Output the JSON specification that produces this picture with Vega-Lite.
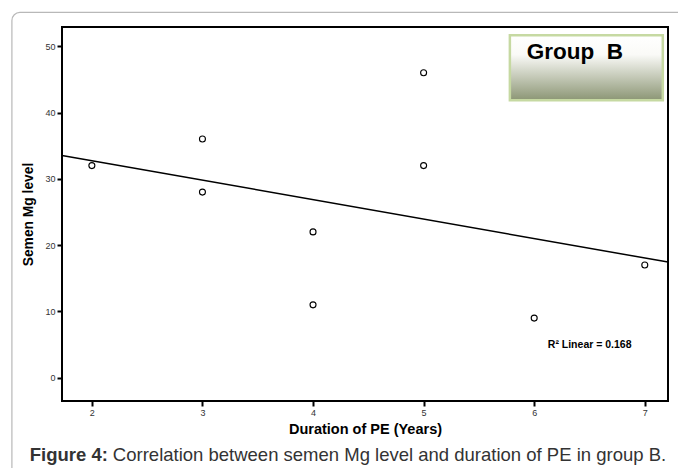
{
  "$schema": "https://vega.github.io/schema/vega-lite/v6.json",
  "width": 606,
  "height": 374,
  "autosize": {"type": "none"},
  "padding": {"left": 62, "top": 27, "right": 10, "bottom": 67},
  "background": "#ffffff",
  "config": {
    "font": "Liberation Sans",
    "view": {"stroke": "#000000", "strokeWidth": 2},
    "axis": {
      "domain": false,
      "grid": false,
      "tickColor": "#000000",
      "tickWidth": 2,
      "tickSize": 5,
      "labelFont": "Liberation Sans",
      "labelFontSize": 9,
      "labelColor": "#333333",
      "labelPadding": 2,
      "titleFont": "Liberation Sans",
      "titleFontWeight": "bold",
      "titleColor": "#000000"
    }
  },
  "layer": [
    {
      "data": {"values": [{"x1": 1.277, "x2": 7.7, "y1": 55.1, "y2": -25}]},
      "mark": {"type": "rect", "fill": null, "fillOpacity": 0, "stroke": "#b8b8b8", "strokeWidth": 1.2, "cornerRadius": 8},
      "encoding": {
        "x": {"field": "x1", "type": "quantitative", "scale": {"domain": [1.73, 7.21], "nice": false, "zero": false}},
        "x2": {"field": "x2"},
        "y": {"field": "y1", "type": "quantitative", "scale": {"domain": [-3.5, 52.9], "nice": false, "zero": false}},
        "y2": {"field": "y2"}
      }
    },
    {
      "data": {"name": "pts", "values": [
        {"duration": 2, "mg": 32},
        {"duration": 3, "mg": 36},
        {"duration": 3, "mg": 28},
        {"duration": 4, "mg": 22},
        {"duration": 4, "mg": 11},
        {"duration": 5, "mg": 46},
        {"duration": 5, "mg": 32},
        {"duration": 6, "mg": 9},
        {"duration": 7, "mg": 17}
      ]},
      "layer": [
        {
          "mark": {"type": "point", "shape": "circle", "filled": false, "stroke": "#000000", "fill": "#ffffff", "fillOpacity": 1, "strokeWidth": 1.1, "size": 36, "opacity": 1},
          "encoding": {
            "x": {"field": "duration", "type": "quantitative", "title": "Duration of PE (Years)",
              "scale": {"domain": [1.73, 7.21], "nice": false, "zero": false},
              "axis": {"values": [2, 3, 4, 5, 6, 7], "format": "d", "titleFontSize": 14.5, "titlePadding": 5}},
            "y": {"field": "mg", "type": "quantitative", "title": "Semen Mg level",
              "scale": {"domain": [-3.5, 52.9], "nice": false, "zero": false},
              "axis": {"values": [0, 10, 20, 30, 40, 50], "format": "d", "titleFontSize": 13.8, "titlePadding": 9}}
          }
        },
        {
          "transform": [{"regression": "mg", "on": "duration", "extent": [1.73, 7.21]}],
          "mark": {"type": "line", "color": "#000000", "strokeWidth": 1.5},
          "encoding": {
            "x": {"field": "duration", "type": "quantitative"},
            "y": {"field": "mg", "type": "quantitative"}
          }
        }
      ]
    },
    {
      "data": {"values": [{"x1": 5.78, "x2": 7.163, "y1": 51.66, "y2": 41.87}]},
      "mark": {"type": "rect", "stroke": "#c6d9a2", "strokeWidth": 2.5,
        "fill": {"gradient": "linear", "x1": 0, "y1": 0, "x2": 0, "y2": 1,
          "stops": [{"offset": 0, "color": "#ffffff"}, {"offset": 0.3, "color": "#fafaf7"}, {"offset": 1, "color": "#8c9675"}]}},
      "encoding": {
        "x": {"field": "x1", "type": "quantitative"},
        "x2": {"field": "x2"},
        "y": {"field": "y1", "type": "quantitative"},
        "y2": {"field": "y2"}
      }
    },
    {
      "data": {"values": [{"x": 5.933, "y": 48.04, "label": "Group\u00a0\u00a0B"}]},
      "mark": {"type": "text", "align": "left", "baseline": "alphabetic", "fontSize": 22.5, "fontWeight": "bold", "color": "#000000"},
      "encoding": {
        "x": {"field": "x", "type": "quantitative"},
        "y": {"field": "y", "type": "quantitative"},
        "text": {"field": "label"}
      }
    },
    {
      "data": {"values": [{"x": 6.123, "y": 5.0, "label": "R² Linear = 0.168"}]},
      "mark": {"type": "text", "align": "left", "baseline": "middle", "fontSize": 10.5, "fontWeight": "bold", "color": "#000000"},
      "encoding": {
        "x": {"field": "x", "type": "quantitative"},
        "y": {"field": "y", "type": "quantitative"},
        "text": {"field": "label"}
      }
    },
    {
      "data": {"values": [{"x": 1.439, "y": -12.5, "label": "Figure 4:"}]},
      "mark": {"type": "text", "align": "left", "baseline": "alphabetic", "fontSize": 18.5, "fontWeight": "bold", "color": "#333333"},
      "encoding": {
        "x": {"field": "x", "type": "quantitative"},
        "y": {"field": "y", "type": "quantitative"},
        "text": {"field": "label"}
      }
    },
    {
      "data": {"values": [{"x": 2.19, "y": -12.5, "label": "Correlation between semen Mg level and duration of PE in group B."}]},
      "mark": {"type": "text", "align": "left", "baseline": "alphabetic", "fontSize": 18.5, "color": "#333333"},
      "encoding": {
        "x": {"field": "x", "type": "quantitative"},
        "y": {"field": "y", "type": "quantitative"},
        "text": {"field": "label"}
      }
    }
  ]
}
